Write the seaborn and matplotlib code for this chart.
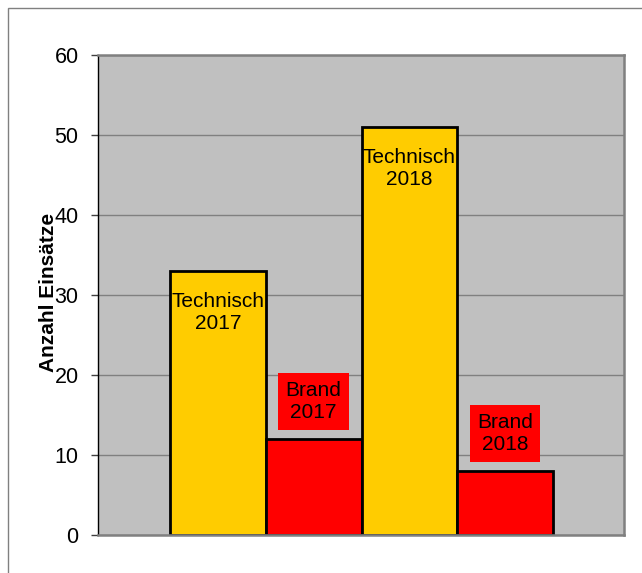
import pandas as pd
import matplotlib
matplotlib.use("Agg")
import matplotlib.pyplot as plt
from matplotlib.patches import Rectangle
import seaborn as sns

# Data
labels = ["Technisch\n2017", "Brand\n2017", "Technisch\n2018", "Brand\n2018"]
values = [33, 12, 51, 8]
kinds = ["Technisch", "Brand", "Technisch", "Brand"]

colors = {"Technisch": "#FFCC00", "Brand": "#FF0000"}

df = pd.DataFrame({"label": labels, "value": values, "kind": kinds})

sns.set_style("white")
plt.rcParams["font.family"] = ["Liberation Sans", "DejaVu Sans"]
plt.rcParams["text.color"] = "black"
plt.rcParams["axes.labelcolor"] = "black"
plt.rcParams["ytick.color"] = "black"

fig = plt.figure(figsize=(6.42, 5.73), dpi=100)
ax = fig.add_axes([98 / 642, 38 / 573, 526 / 642, 480 / 573])
ax.set_facecolor("#C0C0C0")

# Grid behind bars
ax.set_axisbelow(True)
ax.yaxis.grid(True, color="#808080", linewidth=1.0)
ax.xaxis.grid(False)

sns.barplot(data=df, x="label", y="value", hue="label",
            palette=[colors[k] for k in kinds], saturation=1, width=1.0,
            edgecolor="black", linewidth=2.0, legend=False, ax=ax)

ax.set_xlim(-1.252, 4.24)
ax.set_ylim(0, 60)
ax.set_yticks(range(0, 61, 10))
ax.set_xticks([])
ax.set_xlabel("")
ax.set_ylabel("Anzahl Einsätze", fontsize=15, fontweight="bold", va="center")
ax.yaxis.set_label_coords(-0.095, 0.505)
ax.tick_params(axis="y", direction="out", length=5, width=1, color="#404040",
               labelcolor="black", labelsize=15.5, pad=9, left=True)

for side in ["top", "right", "bottom"]:
    ax.spines[side].set_color("#808080")
    ax.spines[side].set_linewidth(1.8)
ax.spines["left"].set_color("black")
ax.spines["left"].set_linewidth(1.0)

# Data labels
for i, (lab, val, kind) in enumerate(zip(labels, values, kinds)):
    if kind == "Technisch":
        ax.text(i, val - 5.2, lab, ha="center", va="center", fontsize=15,
                linespacing=1.25, color="black")
    else:
        ax.text(i, val + 4.7, lab, ha="center", va="center", fontsize=15,
                linespacing=1.25, color="black",
                bbox=dict(boxstyle="square,pad=0.35", facecolor="#FF0000",
                          edgecolor="none"))

# Outer chart border
fig.patches.append(Rectangle((7.5 / 642, -0.05), 1.1, (573 - 8.5) / 573 + 0.05,
                             transform=fig.transFigure, fill=False,
                             edgecolor="#808080", linewidth=1.0))

fig.savefig("out.png", dpi=100)
